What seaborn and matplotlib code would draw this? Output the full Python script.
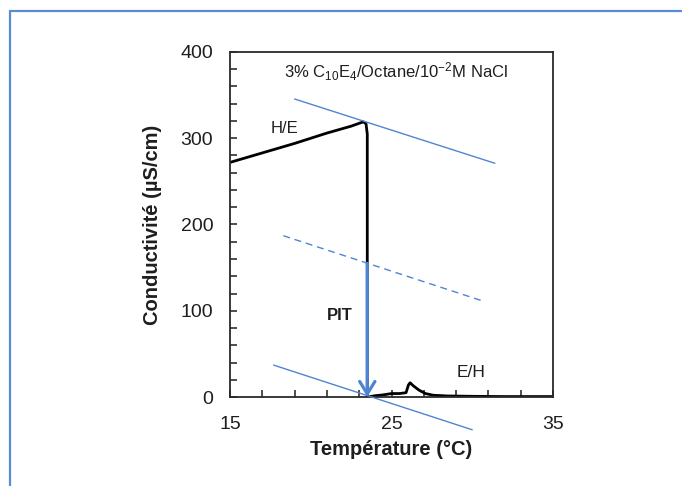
import matplotlib
matplotlib.use("Agg")
import matplotlib.pyplot as plt
from matplotlib.lines import Line2D
import seaborn as sns
import pandas as pd

# Conductivity scan through the phase inversion temperature
temperature = [15.0, 17.0, 19.0, 21.0, 22.5, 23.25, 23.42, 23.5, 23.5,
               24.0, 24.5, 25.0, 25.5, 25.9, 26.05, 26.15, 26.35, 26.7,
               27.1, 27.6, 28.5, 30.0, 32.0, 35.0]
conductivity = [272, 283, 294, 306, 314, 319, 317, 305, 0,
                1.5, 2.5, 4, 4, 5, 14, 16.5, 13, 8,
                4, 2, 1.2, 0.8, 0.5, 0.5]

# Guide lines: upper branch, midpoint (dashed) and lower branch
upper_T = [19.0, 31.4]
upper_k = [345.5, 271.0]
mid_T = [18.3, 30.7]
mid_k = [187.0, 111.0]
lower_T = [17.7, 30.0]
lower_k = [37.0, -38.0]

# PIT arrow
pit_T = 23.5
pit_from = 155
pit_to = 0

x_ticks = [15, 25, 35]
y_ticks = [0, 100, 200, 300, 400]

sns.set_style("ticks")
plt.rcParams["font.family"] = ["Liberation Sans", "DejaVu Sans"]
plt.rcParams["mathtext.fontset"] = "custom"
plt.rcParams["mathtext.rm"] = "Liberation Sans"
plt.rcParams["mathtext.it"] = "Liberation Sans"

TEXT = "#1e1e1e"
BLUE = "#4f84d4"

fig = plt.figure(figsize=(6.82, 4.86), dpi=100)
ax = fig.add_axes([230 / 682, 1 - 397 / 486, 323 / 682, 345 / 486])

df = pd.DataFrame({"T": temperature, "k": conductivity})
sns.lineplot(data=df, x="T", y="k", sort=False, estimator=None,
             color="black", lw=2.0, ax=ax, solid_joinstyle="round", zorder=2)

sns.lineplot(x=upper_T, y=upper_k, color=BLUE, lw=1.0, ax=ax, zorder=3)
sns.lineplot(x=mid_T, y=mid_k, color=BLUE, lw=1.0, ax=ax,
             linestyle=(0, (5, 3.5)), zorder=3)
sns.lineplot(x=lower_T, y=lower_k, color=BLUE, lw=1.0, ax=ax, zorder=3)
ax.lines[-1].set_clip_on(False)

ax.annotate("", xy=(pit_T, pit_to), xytext=(pit_T, pit_from), zorder=4,
            arrowprops=dict(arrowstyle="->,head_length=0.9,head_width=0.55",
                            color=BLUE, lw=2.3, shrinkA=0, shrinkB=0))

ax.set_xlim(15, 35)
ax.set_ylim(0, 400)
ax.set_xticks(x_ticks)
ax.set_yticks(y_ticks)
ax.set_xticks(range(15, 36, 2), minor=True)
ax.set_yticks(range(0, 401, 20), minor=True)
ax.tick_params(which="both", direction="in", length=5, width=1.1,
               colors=TEXT, top=False, right=False)
ax.tick_params(which="major", labelsize=14, pad=12)
ax.tick_params(axis="x", which="major", pad=14)
for s in ax.spines.values():
    s.set_linewidth(1.3)
    s.set_color("#2a2a2a")

ax.set_xlabel("Température (°C)", fontsize=14.5, fontweight="bold", color=TEXT)
ax.set_ylabel("Conductivité (µS/cm)", fontsize=14.5, fontweight="bold", color=TEXT)
ax.xaxis.set_label_coords(0.5, -0.125)
ax.yaxis.set_label_coords(-0.21, 0.5)

ax.text(25.3, 377, r"3% C$_{10}$E$_{4}$/Octane/10$^{-2}$M NaCl",
        ha="center", va="center", fontsize=12, color=TEXT)
ax.text(18.4, 311, "H/E", ha="center", va="center", fontsize=12, color=TEXT)
ax.text(21.8, 94, "PIT", ha="center", va="center", fontsize=12,
        fontweight="bold", color=TEXT)
ax.text(29.9, 28, "E/H", ha="center", va="center", fontsize=12.5, color=TEXT)

# Outer frame (top and left edges)
fy = 1 - 11 / 486
fx = 10 / 682
fig.add_artist(Line2D([fx, 1.0], [fy, fy], transform=fig.transFigure,
                      color="#5b8cd0", lw=1.6))
fig.add_artist(Line2D([fx, fx], [0.0, fy], transform=fig.transFigure,
                      color="#5b8cd0", lw=1.6))

fig.savefig("out.png", dpi=100)
